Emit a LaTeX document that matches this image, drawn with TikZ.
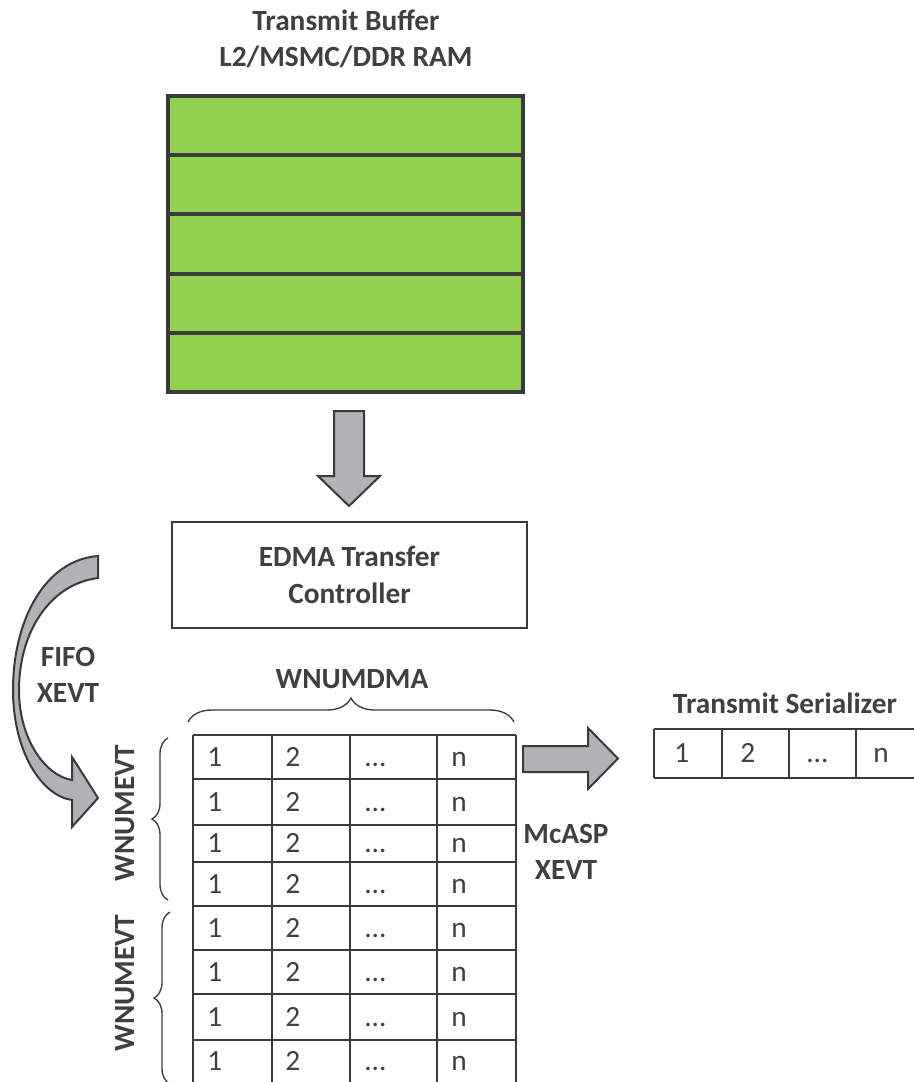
\documentclass[tikz,border=0pt]{standalone}
\usepackage{fontspec}
\setmainfont{Carlito}
\usetikzlibrary{decorations.pathreplacing}
\definecolor{bufgreen}{HTML}{92D050}
\definecolor{arrowgray}{HTML}{B1B2B6}
\definecolor{linegray}{HTML}{3A3A3A}
\definecolor{textgray}{HTML}{404040}

\begin{document}
\begin{tikzpicture}[x=0.75pt,y=-0.75pt]
            \tikzstyle{bufrow}=[draw=linegray, line width=3pt, fill=bufgreen, minimum width=266.25pt, minimum height=44.4pt, inner sep=0];
            \tikzstyle{label}=[text=textgray, font=\fontsize{22}{26.5}\selectfont\bfseries, align=center, inner sep=0];
            \tikzstyle{entry}=[text=textgray, font=\fontsize{22}{24}\selectfont, anchor=west, inner sep=0, text height=14pt, text depth=0pt];
            \tikzstyle{grid}=[draw=linegray, line width=1.9pt];
            \tikzstyle{thin grid}=[draw=linegray, line width=0.8pt];
            \tikzstyle{block arrow}=[draw=linegray, line width=1.5pt, fill=arrowgray, line join=miter];
            \tikzstyle{curly}=[draw=linegray, line width=1pt, decorate, decoration={brace, amplitude=12pt}];
            \useasboundingbox (0,0) rectangle (914,1082);
            % transmit buffer
            \node[label] (title) at (346,39) {Transmit Buffer\\L2/MSMC/DDR RAM};
            \foreach \i in {0,...,4} \node[bufrow] (b\i) at (345.5,125.6+59.2*\i) {};
            \draw[block arrow] (334,411)--(364,411)--(364,476)--(380,476)--(349,506)--(318,476)--(334,476)--cycle;
            \node[draw=linegray, line width=1.5pt, minimum width=266.25pt, minimum height=79.5pt, text=textgray, font=\fontsize{22}{28}\selectfont\bfseries, align=center] (edma) at (349.5,575) {EDMA Transfer\\Controller};
            % fifo event arrow
            \draw[block arrow] (98,556) .. controls (45,560) and (13,620) .. (13,690)
                .. controls (13,752) and (42,796) .. (72,800) -- (72,827) -- (98,798) -- (72,757) -- (72,780)
                .. controls (46,776) and (19,740) .. (19,690) .. controls (19,632) and (50,584) .. (98,578) -- cycle;
            \node[label] (fifo) at (68,675) {FIFO\\XEVT};
            % dma words and events
            \node[label] (dma) at (352,679) {WNUMDMA};
            \draw[curly, decoration={amplitude=18pt}] (188,722)--(514,722);
            \draw[curly] (168,900)--(168,738);
            \draw[curly] (170,1084)--(170,912);
            \node[label, rotate=90] (evt1) at (125,813) {WNUMEVT};
            \node[label, rotate=90] (evt2) at (125,983) {WNUMEVT};
            % fifo table
            \foreach \y in {735,779,825,862,906,950,994,1040} \draw[grid] (193,\y)--(516,\y);
            \foreach \x in {193,272,350,437,516} \draw[grid] (\x,735)--(\x,1083);
            \foreach \y in {757,802,843.5,884,928,972,1017,1061} {
              \node[entry] at (207,\y) {1};
              \node[entry] at (285,\y) {2};
              \node[entry] at (364,\y) {...};
              \node[entry] at (451,\y) {n};
            }
            \draw[block arrow] (523,746)--(588,746)--(588,728)--(618,758.5)--(588,789)--(588,772)--(523,772)--cycle;
            \node[label] (mcasp) at (566,852) {McASP\\XEVT};
            % serializer
            \node[label] (ser) at (785,703) {Transmit Serializer};
            \foreach \y in {729,778} \draw[thin grid] (654,\y)--(914,\y);
            \foreach \x in {654,722,789,856} \draw[thin grid] (\x,729)--(\x,778);
            \node[entry] (s1) at (674,753.5) {1};
            \node[entry] (s2) at (740,753.5) {2};
            \node[entry] (s3) at (806,753.5) {...};
            \node[entry] (s4) at (873,753.5) {n};
\end{tikzpicture}
\end{document}
